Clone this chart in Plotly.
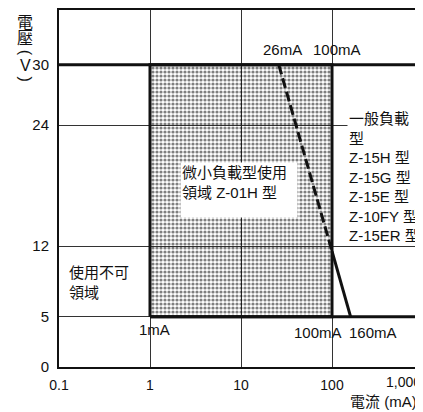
import plotly.graph_objects as go

# ---- data ----
x_tick_vals = [0.1, 1, 10, 100]
x_tick_text = ["0.1", "1", "10", "100"]
y_tick_vals = [0, 5, 12, 24, 30]
y_tick_text = ["0", "5", "12", "24", "30"]

region_i = [1, 100, 100, 1, 1]          # mA, micro-load usable region
region_v = [5, 5, 30, 30, 5]            # V

upper_v_line_i = [0.1, 1000]
upper_v_line_v = [30, 30]
lower_v_line_i = [1, 1000]
lower_v_line_v = [5, 5]

dashed_i = [26, 100]
dashed_v = [30, 11.5]
solid_slope_i = [100, 160]
solid_slope_v = [11.5, 5]

FONT = "Liberation Sans, Arial, Noto Sans CJK TC, sans-serif"
CJK = "Noto Sans CJK TC, sans-serif"
BLACK = "#111111"

fig = go.Figure()

# dotted region
fig.add_trace(go.Scatter(
    x=region_i, y=region_v, mode="lines", fill="toself",
    fillcolor="rgba(255,255,255,0)",
    fillpattern=dict(shape=".", fgcolor="#000000", bgcolor="rgba(255,255,255,0)",
                     size=4, solidity=0.5),
    line=dict(color=BLACK, width=3), hoverinfo="skip", showlegend=False))

for xs, ys in [(upper_v_line_i, upper_v_line_v), (lower_v_line_i, lower_v_line_v),
               (solid_slope_i, solid_slope_v)]:
    fig.add_trace(go.Scatter(x=xs, y=ys, mode="lines",
                             line=dict(color=BLACK, width=3),
                             hoverinfo="skip", showlegend=False))

fig.add_trace(go.Scatter(x=dashed_i, y=dashed_v, mode="lines",
                         line=dict(color=BLACK, width=3, dash="10px,4px"),
                         hoverinfo="skip", showlegend=False))

ann = []
def add(text, x, y, xanchor="center", yanchor="middle", align="center", size=15, **kw):
    d = dict(text=text, x=x, y=y, xref="x", yref="y", showarrow=False,
             xanchor=xanchor, yanchor=yanchor, align=align,
             font=dict(family=FONT, size=size, color=BLACK))
    d.update(kw)
    ann.append(d)

add("26mA", 1.46, 31.5)
add("100mA", 2.055, 31.5)
add("1mA", 0.044, 3.7)
add("100mA", 1.846, 3.45)
add("160mA", 2.45, 3.45)
add("使用不可<br>領域", -0.91, 8.4, xanchor="left", align="left")
add("一般負載<br>型<br>Z-15H 型<br>Z-15G 型<br>Z-15E 型<br>Z-10FY 型<br>Z-15ER 型",
    2.165, 18.9, xanchor="left", align="left", bgcolor="white")
add("微小負載型使用<br>領域 Z-01H 型", 0.33, 20.4, xanchor="left", yanchor="top",
    align="left", valign="top", bgcolor="white", width=114, height=52, borderpad=1)

# 1,000 label (partially cut at right edge)
ann.append(dict(text="1,000", x=3, y=0, xref="x", yref="paper", showarrow=False,
                xanchor="right", yanchor="top", xshift=0, yshift=-5,
                font=dict(family=FONT, size=14, color=BLACK)))
# x axis title
ann.append(dict(text="電流 (mA)", x=1, y=0, xref="paper", yref="paper", showarrow=False,
                xanchor="right", yanchor="top", xshift=-4, yshift=-24,
                font=dict(family=FONT, size=15, color=BLACK)))
# vertical y axis title
H = 359.0
for ch, py, sz, ang in [("電", 19, 16, 0), ("壓", 35, 16, 0), ("(", 51, 16, 90),
                        ("V", 64, 16, 0), (")", 77, 16, 90)]:
    ann.append(dict(text=ch, x=0, y=(367 - py) / H, xref="paper", yref="paper",
                    showarrow=False, xanchor="center", yanchor="middle", xshift=-34,
                    textangle=ang,
                    font=dict(family=FONT if ch in "()V" else CJK, size=sz, color=BLACK)))

fig.update_layout(
    width=415, height=404,
    margin=dict(l=51, r=0, t=0, b=45),
    paper_bgcolor="white", plot_bgcolor="white",
    font=dict(family=FONT, size=14, color=BLACK),
    annotations=ann,
    xaxis=dict(type="log", range=[-1, 3], tickvals=x_tick_vals, ticktext=x_tick_text,
               showgrid=True, gridcolor="#333333", gridwidth=1,
               showline=True, linecolor=BLACK, linewidth=2, mirror=True,
               ticks="", zeroline=False, tickfont=dict(size=14), ticklabelstandoff=4),
    yaxis=dict(range=[0, 35.44], tickvals=y_tick_vals, ticktext=y_tick_text,
               showgrid=True, gridcolor="#333333", gridwidth=1,
               showline=True, linecolor=BLACK, linewidth=2,
               ticks="", zeroline=False, tickfont=dict(size=15), ticklabelstandoff=5),
)

fig.write_html("out.html")
